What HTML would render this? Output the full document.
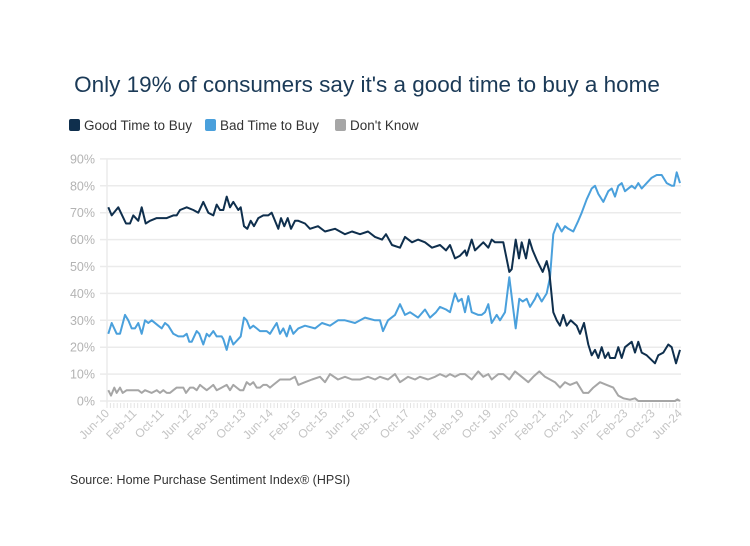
<!DOCTYPE html><html><head><meta charset="utf-8"><style>
body{margin:0;background:#fff;font-family:"Liberation Sans",sans-serif}
</style></head><body>
<svg id="s" width="750" height="546" xmlns="http://www.w3.org/2000/svg" style="display:block">
<text x="367" y="92" text-anchor="middle" font-size="22.5" fill="#1b3a57" font-family="Liberation Sans, sans-serif">Only 19% of consumers say it's a good time to buy a home</text>
<g font-size="13.5" fill="#333">
<rect x="69" y="119" width="11" height="12" rx="2" fill="#0f2f4d"/><text x="84" y="130">Good Time to Buy</text>
<rect x="205" y="119" width="11" height="12" rx="2" fill="#4aa0dc"/><text x="220" y="130">Bad Time to Buy</text>
<rect x="335" y="119" width="11" height="12" rx="2" fill="#a6a6a6"/><text x="350" y="130">Don't Know</text>
</g>
<g id="grid"></g><g id="lines"></g>
<text x="70" y="484" font-size="12.5" fill="#333">Source: Home Purchase Sentiment Index® (HPSI)</text>
</svg>
<script>
var NS="http://www.w3.org/2000/svg",s=document.getElementById('grid'),L=document.getElementById('lines');
function el(t,a,p,txt){var e=document.createElementNS(NS,t);for(var k in a)e.setAttribute(k,a[k]);if(txt)e.textContent=txt;p.appendChild(e);return e;}
var y0=401,k=2.69;
for(var i=0;i<=9;i++){var y=y0-i*10*k;el('line',{x1:100,x2:681,y1:y,y2:y,stroke:'#ebebeb','stroke-width':1.5},s);
el('text',{x:95,y:y+4.5,'text-anchor':'end','font-size':12.5,fill:'#b3b3b3'},s,(i*10)+'%');}
el('line',{x1:107,x2:107,y1:159,y2:403,stroke:'#ebebeb','stroke-width':1.5},s);
for(var m=0;m<=168;m++){var x=107+m*3.41;el('line',{x1:x,x2:x,y1:403,y2:408,stroke:'#e4e4e4','stroke-width':1},s);}
var labs=['Jun-10','Feb-11','Oct-11','Jun-12','Feb-13','Oct-13','Jun-14','Feb-15','Oct-15','Jun-16','Feb-17','Oct-17','Jun-18','Feb-19','Oct-19','Jun-20','Feb-21','Oct-21','Jun-22','Feb-23','Oct-23','Jun-24'];
labs.forEach(function(t,i){var x=107+i*8*3.41+3,y=414;el('text',{x:x,y:y,'text-anchor':'end','font-size':12,fill:'#c4c4c4',transform:'rotate(-45 '+x+' '+y+')'},s,t);});
function z1(a){return a.map(function(p){return [50+p[0]/3,p[1]];});}
function z2(a){return a.map(function(p){return [450+p[0]/3,p[1]];});}
var good=z1([[175,72],[185,69],[205,72],[228,66],[240,66],[250,69],[265,67],[275,72],[287,66],[300,67],[320,68],[350,68],[370,69],[380,69],[390,71],[410,72],[430,71],[445,70],[460,74],[475,70],[490,69],[500,73],[510,71],[520,71],[530,76],[540,72],[550,74],[565,71],[572,72],[582,65],[592,64],[602,67],[612,65],[625,68],[640,69],[655,69],[665,70],[685,64],[693,68],[703,65],[713,68],[723,64],[735,67],[745,67]])
.concat([[305,66],[310,64],[318,65],[325,63],[335,64],[345,62],[352,63],[360,62],[368,63],[375,61],[382,60],[386,62],[392,58],[400,57],[405,61],[412,59],[418,60],[425,59],[432,57],[440,58],[446,56]])
.concat(z2([[0,58],[15,53],[30,54],[45,56],[50,54],[65,60],[75,56],[100,59],[115,57],[125,60],[135,59],[160,59],[178,48],[185,49],[197,60],[207,53],[215,59],[228,53],[238,60],[248,56],[262,52],[278,48],[290,52],[298,48],[310,33],[320,30],[330,28],[340,32],[350,28],[362,30],[380,28],[390,25],[402,29],[415,21],[425,17],[435,19],[445,16],[455,20],[465,16],[475,18],[480,16],[495,16],[505,20],[515,16],[525,20],[545,22],[555,18],[565,22],[575,18],[590,17],[615,14],[625,17],[640,18],[655,21],[665,20],[678,14],[690,19]]));
var bad=z1([[175,25],[185,29],[200,25],[210,25],[225,32],[235,30],[245,27],[255,27],[265,29],[275,25],[285,30],[295,29],[305,30],[325,28],[335,27],[345,29],[355,28],[370,25],[385,24],[400,24],[410,25],[418,22],[425,22],[440,26],[448,25],[460,21],[470,25],[478,24],[490,26],[500,24],[515,24],[520,23],[530,19],[540,24],[550,21],[565,23],[572,24],[582,31],[590,30],[600,27],[610,28],[620,27],[630,26],[650,26],[660,25],[670,27],[680,29],[690,25],[700,27],[710,24],[720,28],[730,25],[745,27]])
.concat([[305,28],[315,27],[322,29],[330,28],[338,30],[345,30],[355,29],[365,31],[375,30],[380,30],[383,26],[388,30],[395,32],[400,36],[405,32],[410,33],[418,31],[425,34],[430,31],[436,33],[440,35],[446,34]])
.concat(z2([[0,33],[15,40],[25,37],[35,38],[45,33],[55,39],[65,33],[85,32],[95,32],[105,33],[115,36],[125,29],[140,32],[150,30],[165,33],[178,46],[190,34],[197,27],[208,38],[218,37],[230,38],[240,35],[255,38],[262,40],[275,37],[290,40],[300,46],[310,62],[322,66],[335,63],[345,65],[355,64],[370,63],[385,67],[395,70],[410,75],[425,79],[435,80],[445,77],[460,74],[475,78],[485,79],[495,76],[505,80],[515,81],[525,78],[545,80],[555,79],[565,81],[575,79],[590,81],[605,83],[620,84],[635,84],[650,81],[665,80],[672,80],[680,85],[690,81]]));
var dk=z1([[175,4],[183,2],[193,5],[200,3],[210,5],[218,3],[230,4],[265,4],[275,3],[285,4],[305,3],[320,4],[330,3],[340,4],[350,3],[360,3],[370,4],[380,5],[400,5],[408,3],[420,5],[430,5],[440,4],[450,6],[460,5],[470,4],[480,5],[490,6],[500,4],[515,5],[530,6],[540,4],[550,6],[560,5],[570,4],[580,4],[590,7],[600,6],[610,7],[620,5],[630,5],[640,6],[650,6],[660,5],[670,6],[690,8],[720,8],[735,9],[745,6]])
.concat([[305,7],[312,8],[320,9],[325,7],[330,10],[338,8],[345,9],[352,8],[360,8],[368,9],[375,8],[380,9],[388,8],[395,10],[400,7],[408,9],[415,8],[420,9],[428,8],[435,9],[440,10],[446,9]])
.concat(z2([[0,10],[15,9],[30,10],[45,10],[65,8],[85,11],[100,9],[115,10],[125,8],[145,10],[160,10],[178,8],[195,11],[215,9],[235,7],[250,9],[268,11],[285,9],[300,8],[315,7],[330,5],[345,7],[360,6],[380,7],[400,3],[415,3],[430,5],[450,7],[470,6],[490,5],[505,2],[520,1],[540,0.5],[555,1],[565,0],[675,0],[682,0.6],[690,0]]));
function draw(a,c){var d=a.map(function(p,i){return (i?'L':'M')+p[0].toFixed(1)+' '+(y0-p[1]*k).toFixed(1);}).join('');
el('path',{d:d,fill:'none',stroke:c,'stroke-width':2,'stroke-linejoin':'round'},L);}
draw(dk,'#a6a6a6');draw(bad,'#4aa0dc');draw(good,'#0f2f4d');
</script>
</body></html>
